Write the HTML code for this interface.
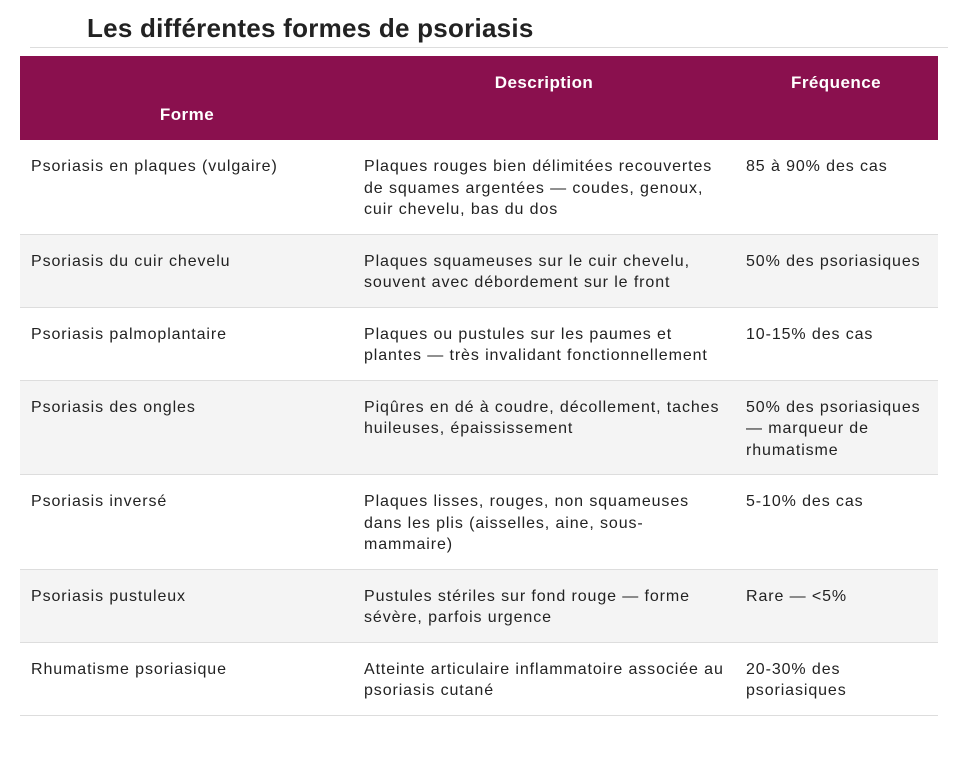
<!DOCTYPE html>
<html><head><meta charset="utf-8"><style>
body{margin:0;background:#fff;font-family:"Liberation Sans",Arial,sans-serif;color:#222;width:973px;height:762px;overflow:hidden;position:relative}
h1{position:absolute;left:87px;top:12px;margin:0;font-size:26px;font-weight:bold;color:#222;line-height:32px;letter-spacing:0.25px}
.rule{position:absolute;left:30px;top:47px;width:918px;height:1px;background:#ddd}
.hdr{position:absolute;left:20px;top:56px;width:918px;height:84px;background:#8a104e;color:#fff;font-weight:bold;font-size:17px;letter-spacing:0.45px}
.hdr span{position:absolute;line-height:22px;transform:translateX(-50%);white-space:nowrap}
table{position:absolute;left:20px;top:140px;width:918px;border-collapse:collapse;font-size:16px;letter-spacing:0.9px}
td{padding:16px 10px 13px 11px;vertical-align:top;line-height:21.5px;border-bottom:1px solid #ddd}
tr:nth-child(even) td{background:#f4f4f4}
</style></head><body>
<h1>Les différentes formes de psoriasis</h1>
<div class="rule"></div>
<div class="hdr">
<span style="left:167px;top:48px">Forme</span>
<span style="left:524px;top:16px">Description</span>
<span style="left:816px;top:16px">Fréquence</span>
</div>
<table>
<colgroup><col style="width:333px"><col style="width:382px"><col style="width:203px"></colgroup>
<tr><td>Psoriasis en plaques (vulgaire)</td><td>Plaques rouges bien délimitées recouvertes de squames argentées — coudes, genoux, cuir chevelu, bas du dos</td><td>85 à 90% des cas</td></tr>
<tr><td>Psoriasis du cuir chevelu</td><td>Plaques squameuses sur le cuir chevelu, souvent avec débordement sur le front</td><td>50% des psoriasiques</td></tr>
<tr><td>Psoriasis palmoplantaire</td><td>Plaques ou pustules sur les paumes et plantes — très invalidant fonctionnellement</td><td>10-15% des cas</td></tr>
<tr><td>Psoriasis des ongles</td><td>Piqûres en dé à coudre, décollement, taches huileuses, épaississement</td><td>50% des psoriasiques — marqueur de rhumatisme</td></tr>
<tr><td>Psoriasis inversé</td><td>Plaques lisses, rouges, non squameuses dans les plis (aisselles, aine, sous-mammaire)</td><td>5-10% des cas</td></tr>
<tr><td>Psoriasis pustuleux</td><td>Pustules stériles sur fond rouge — forme sévère, parfois urgence</td><td>Rare — &lt;5%</td></tr>
<tr><td>Rhumatisme psoriasique</td><td>Atteinte articulaire inflammatoire associée au psoriasis cutané</td><td>20-30% des psoriasiques</td></tr>
</table>
</body></html>
